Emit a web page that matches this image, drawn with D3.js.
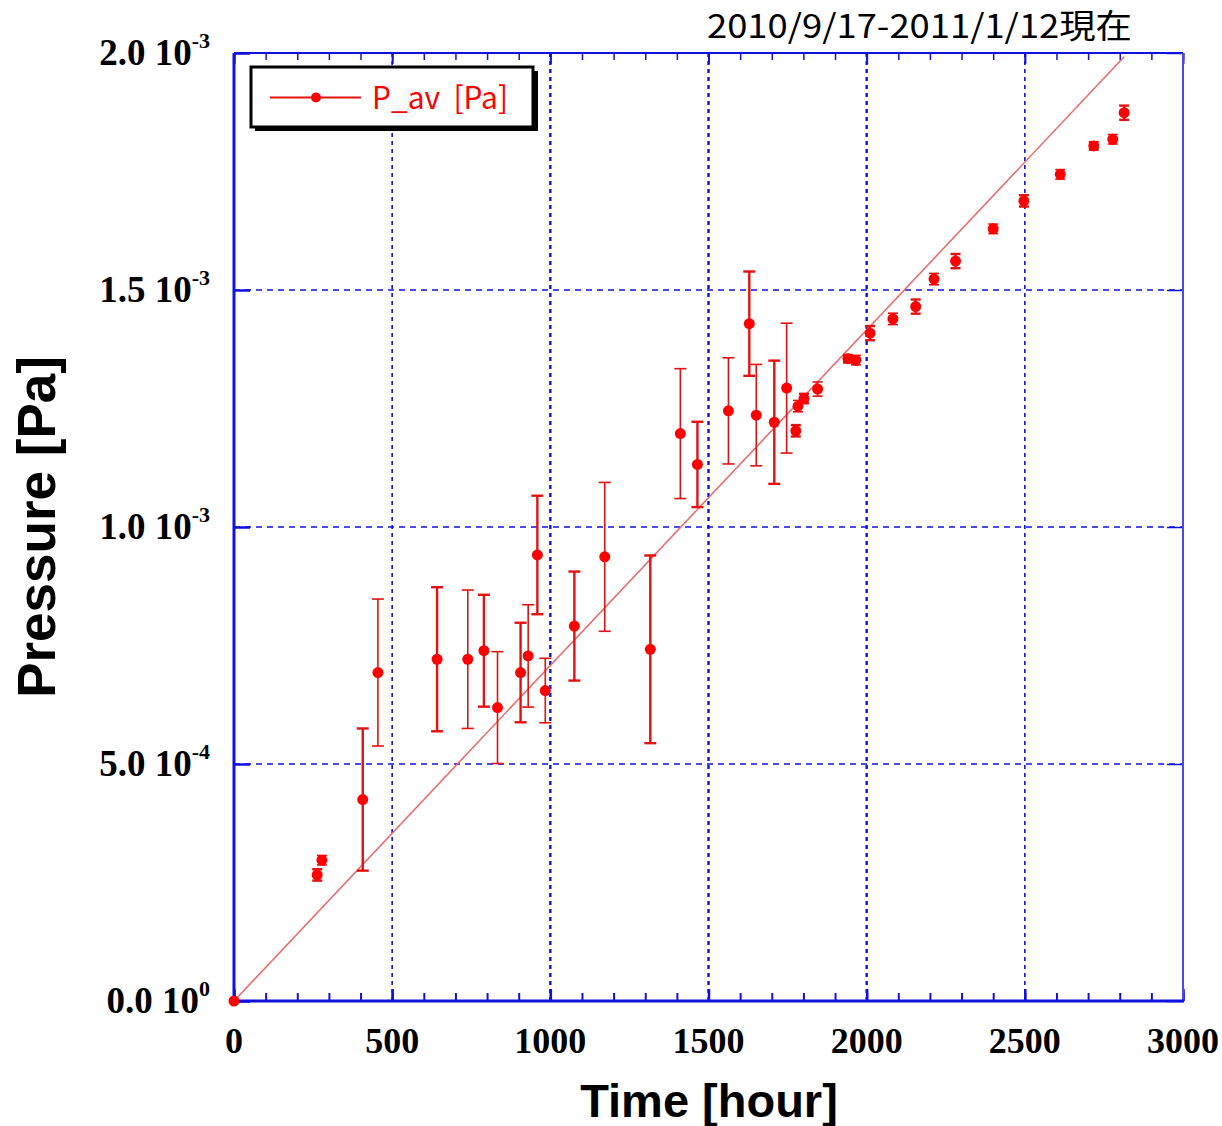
<!DOCTYPE html>
<html>
<head>
<meta charset="utf-8">
<script src="https://d3js.org/d3.v7.min.js"></script>
<style>
    body { margin: 0; background: #fff; }
    svg { display: block; }
    .tick-label { font-family: "Liberation Serif", "Times New Roman", serif; font-weight: bold; fill: #000; }
    .axis-title { font-family: "Liberation Sans", Arial, sans-serif; font-weight: bold; fill: #000; }
    .gothic { font-family: "Noto Sans CJK JP", "Noto Sans", sans-serif; }
</style>
</head>
<body>
<svg id="chart" width="1222" height="1126"></svg>
<script>
// hours since start
const hours = [0, 263, 278, 407, 455, 642, 739, 790, 833, 906, 930, 959, 984, 1076, 1172, 1316,
    1411, 1465, 1563, 1629, 1651, 1708, 1747, 1776, 1783, 1802, 1845, 1941, 1966, 2011,
    2083, 2155, 2213, 2281, 2400, 2497, 2612, 2718, 2778, 2814];

// average pressure, in 1e-3 Pa
const pressure = [0, 0.266, 0.297, 0.425, 0.693, 0.721, 0.721, 0.739, 0.619, 0.693, 0.728, 0.941, 0.655,
    0.791, 0.937, 0.742, 1.197, 1.132, 1.245, 1.429, 1.236, 1.221, 1.293, 1.203, 1.255, 1.271, 1.291,
    1.355, 1.352, 1.409, 1.439, 1.465, 1.523, 1.561, 1.629, 1.688, 1.744, 1.804, 1.818, 1.874];

// error bar half-height, in 1e-3 Pa
const errors = [0, 0.012, 0.010, 0.150, 0.155, 0.152, 0.146, 0.118, 0.118, 0.105, 0.108, 0.125, 0.068,
    0.115, 0.157, 0.198, 0.137, 0.090, 0.112, 0.110, 0.107, 0.130, 0.137, 0.012, 0.012, 0.010, 0.015,
    0.008, 0.010, 0.015, 0.012, 0.015, 0.012, 0.015, 0.010, 0.012, 0.010, 0.008, 0.010, 0.015];

// straight fit through the origin: [hour, pressure 1e-3 Pa]
const fitLine = [[0, 0], [2814, 1.992]];

const xMajorTicks = [0, 500, 1000, 1500, 2000, 2500, 3000];
const yMajorTicks = [0, 0.5, 1.0, 1.5, 2.0];
const yTickMantissa = ["0.0", "5.0", "1.0", "1.5", "2.0"];
const yTickExponent = ["0", "-4", "-3", "-3", "-3"];

const titleText = "2010/9/17-2011/1/12現在";
const legendText = "P_av  [Pa]";

const plotLeft = 234, plotRight = 1183, plotTop = 53, plotBottom = 1001;
const blue = "#1010e0";
const red = "#ff0000";

const svg = d3.select("#chart");

const x = d3.scaleLinear().domain([0, 3000]).range([plotLeft, plotRight]);
const y = d3.scaleLinear().domain([0, 2.0]).range([plotBottom, plotTop]);

drawGrid();
drawAxes();
drawData();
drawLegend();
drawTexts();

function drawGrid() {
    const grid = svg.append("g");

    grid.selectAll(".vgrid")
        .data(xMajorTicks.filter(function(d) { return d > 0 && d < 3000; }))
        .enter()
        .append("line")
        .attr("x1", function(d) { return x(d); })
        .attr("x2", function(d) { return x(d); })
        .attr("y1", plotTop)
        .attr("y2", plotBottom)
        .attr("stroke", blue)
        .attr("stroke-width", function(d) { return d % 1000 === 0 || d === 1500 ? 2.4 : 1.6; })
        .attr("stroke-dasharray", "4,4");

    grid.selectAll(".hgrid")
        .data(yMajorTicks.filter(function(d) { return d > 0 && d < 2.0; }))
        .enter()
        .append("line")
        .attr("x1", plotLeft)
        .attr("x2", plotRight)
        .attr("y1", function(d) { return y(d); })
        .attr("y2", function(d) { return y(d); })
        .attr("stroke", blue)
        .attr("stroke-width", 1.5)
        .attr("stroke-dasharray", "6,5");
}

function styleAxis(g, width) {
    g.selectAll(".domain").remove();
    g.selectAll(".tick line").attr("stroke", blue).attr("stroke-width", width);
    g.selectAll(".tick text").remove();
}

function drawAxes() {
    const minor = d3.range(0, 3001, 100);

    svg.append("g")
        .attr("transform", "translate(0," + plotBottom + ")")
        .call(d3.axisBottom(x).tickValues(minor).tickSize(-8).tickFormat(""))
        .call(styleAxis, 2);
    svg.append("g")
        .attr("transform", "translate(0," + plotBottom + ")")
        .call(d3.axisBottom(x).tickValues(xMajorTicks).tickSize(-12).tickFormat(""))
        .call(styleAxis, 2.5);
    svg.append("g")
        .attr("transform", "translate(0," + plotTop + ")")
        .call(d3.axisTop(x).tickValues(minor).tickSize(-7).tickFormat(""))
        .call(styleAxis, 1.5);
    svg.append("g")
        .attr("transform", "translate(0," + plotTop + ")")
        .call(d3.axisTop(x).tickValues(xMajorTicks).tickSize(-11).tickFormat(""))
        .call(styleAxis, 2);
    svg.append("g")
        .attr("transform", "translate(" + plotLeft + ",0)")
        .call(d3.axisLeft(y).tickValues(yMajorTicks).tickSize(-16).tickFormat(""))
        .call(styleAxis, 2.5);
    svg.append("g")
        .attr("transform", "translate(" + plotRight + ",0)")
        .call(d3.axisRight(y).tickValues(yMajorTicks).tickSize(-16).tickFormat(""))
        .call(styleAxis, 1.5);

    // frame
    svg.append("line").attr("x1", plotLeft).attr("x2", plotRight).attr("y1", plotTop).attr("y2", plotTop)
        .attr("stroke", blue).attr("stroke-width", 2);
    svg.append("line").attr("x1", plotRight).attr("x2", plotRight).attr("y1", plotTop).attr("y2", plotBottom)
        .attr("stroke", "#4a4ae8").attr("stroke-width", 2);
    svg.append("line").attr("x1", plotLeft).attr("x2", plotLeft).attr("y1", plotTop).attr("y2", plotBottom)
        .attr("stroke", blue).attr("stroke-width", 3);
    svg.append("line").attr("x1", plotLeft - 1).attr("x2", plotRight + 1).attr("y1", plotBottom).attr("y2", plotBottom)
        .attr("stroke", blue).attr("stroke-width", 3);

    svg.selectAll(".xlabel")
        .data(xMajorTicks)
        .enter()
        .append("text")
        .attr("class", "tick-label")
        .attr("x", function(d) { return x(d); })
        .attr("y", plotBottom + 52)
        .attr("text-anchor", "middle")
        .attr("font-size", 36)
        .text(function(d) { return d; });

    const ylabels = svg.selectAll(".ylabel")
        .data(yMajorTicks)
        .enter()
        .append("text")
        .attr("class", "tick-label")
        .attr("y", function(d) { return y(d) + 12; })
        .attr("font-size", 37);

    ylabels.append("tspan")
        .text(function(d, i) { return yTickMantissa[i] + " 10"; });
    ylabels.append("tspan")
        .attr("font-size", 22)
        .attr("dy", -17)
        .text(function(d, i) { return yTickExponent[i]; });

    // right edge of each label sits at x = 210
    ylabels.each(function() {
        const w = this.getComputedTextLength();
        d3.select(this).attr("x", 210 - w);
    });
}

function drawData() {
    const line = d3.line()
        .x(function(d) { return x(d[0]); })
        .y(function(d) { return y(d[1]); });

    svg.append("path")
        .datum(fitLine)
        .attr("d", line)
        .attr("fill", "none")
        .attr("stroke", "#ee6666")
        .attr("stroke-width", 1.5);

    const points = hours.map(function(h, i) {
        return { h: h, p: pressure[i], e: errors[i] };
    });

    const bars = svg.append("g")
        .attr("stroke", "#e51010")
        .attr("fill", "none");

    points.forEach(function(d, i) {
        if (d.e <= 0) {
            return;
        }
        const cx = x(d.h);
        const y1 = y(d.p + d.e);
        const y2 = y(d.p - d.e);
        const cap = d.e < 0.03 ? 5 : 6;
        const bar = bars.append("g").attr("stroke-width", i % 2 === 0 ? 1.6 : 2.4);

        bar.append("line").attr("x1", cx).attr("x2", cx).attr("y1", y1).attr("y2", y2);
        bar.append("line").attr("x1", cx - cap).attr("x2", cx + cap).attr("y1", y1).attr("y2", y1);
        bar.append("line").attr("x1", cx - cap).attr("x2", cx + cap).attr("y1", y2).attr("y2", y2);
    });

    svg.append("g")
        .selectAll("circle")
        .data(points)
        .enter()
        .append("circle")
        .attr("cx", function(d) { return x(d.h); })
        .attr("cy", function(d) { return y(d.p); })
        .attr("r", 5.5)
        .attr("fill", red);
}

function drawLegend() {
    const g = svg.append("g");

    g.append("rect")
        .attr("x", 255).attr("y", 71)
        .attr("width", 283).attr("height", 60)
        .attr("fill", "#000");
    g.append("rect")
        .attr("x", 251).attr("y", 67)
        .attr("width", 282).attr("height", 60)
        .attr("fill", "#fff")
        .attr("stroke", "#000")
        .attr("stroke-width", 3);

    g.append("line")
        .attr("x1", 270).attr("x2", 361)
        .attr("y1", 97.5).attr("y2", 97.5)
        .attr("stroke", "#e51010")
        .attr("stroke-width", 2);
    g.append("circle")
        .attr("cx", 316).attr("cy", 97.5)
        .attr("r", 5)
        .attr("fill", red);

    g.append("text")
        .attr("class", "gothic")
        .attr("x", 372)
        .attr("y", 109)
        .attr("font-size", 31)
        .attr("fill", red)
        .attr("textLength", 136)
        .attr("lengthAdjust", "spacingAndGlyphs")
        .attr("xml:space", "preserve")
        .text(legendText);
}

function drawTexts() {
    svg.append("text")
        .attr("class", "gothic")
        .attr("x", 707)
        .attr("y", 38)
        .attr("font-size", 33)
        .attr("fill", "#000")
        .attr("textLength", 425)
        .attr("lengthAdjust", "spacingAndGlyphs")
        .text(titleText);

    svg.append("text")
        .attr("class", "axis-title")
        .attr("x", 709)
        .attr("y", 1117)
        .attr("text-anchor", "middle")
        .attr("font-size", 47)
        .text("Time [hour]");

    svg.append("text")
        .attr("class", "axis-title")
        .attr("transform", "translate(55,527) rotate(-90)")
        .attr("text-anchor", "middle")
        .attr("font-size", 53)
        .text("Pressure [Pa]");
}
</script>
</body>
</html>
